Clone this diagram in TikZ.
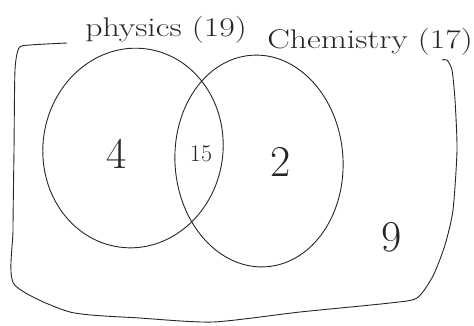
\documentclass[tikz,border=0pt]{standalone}
\usepackage{tikz}
\usetikzlibrary{shapes.geometric}
\colorlet{Ink}{black!85}

\begin{document}
\begin{tikzpicture}[x=1pt,y=-1pt,every node/.style={text=Ink,inner sep=0pt},
  setline/.style={draw=Ink,line width=0.9pt},
  lab/.style={font=\fontsize{27}{30}\selectfont,xscale=1.25},
  num/.style={font=\fontsize{44}{48}\selectfont}]
\useasboundingbox (0,0) rectangle (474,325);
% universal set
\draw[setline,line join=round] plot[smooth,tension=0.4] coordinates {(67,43) (30,45) (19,48) (15,70) (14,150) (13,230) (14,284) (70,312) (140,318) (213,322) (300,312) (390,303) (417,298) (433,276) (445,245) (453,210) (457,150) (455,100) (452,70) (447,60) (442,60)};
% the two sets
\node[setline,ellipse,minimum width=180pt,minimum height=200pt,rotate=-8] (phy) at (133,148) {};
\node[setline,ellipse,minimum width=168pt,minimum height=212pt,rotate=4] (chem) at (259,161) {};
\node[lab] (phylab) at (166,30) {physics (19)};
\node[lab] (chemlab) at (370,42) {Chemistry (17)};
\node[num] (only_p) at (117,154) {4};
\node[font=\fontsize{24}{28}\selectfont] (both) at (201,154) {15};
\node[num] (only_c) at (281,162) {2};
\node[num] (none) at (392,237) {9};
\end{tikzpicture}
\end{document}
